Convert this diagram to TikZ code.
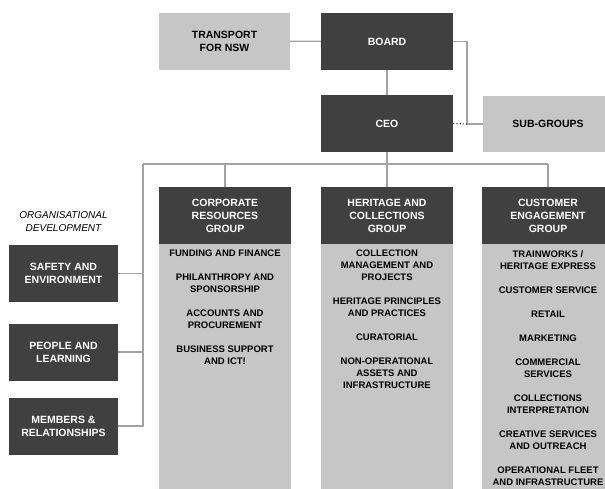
\documentclass[tikz,border=0pt]{standalone}
\usepackage{fontspec}
\setmainfont{Liberation Sans}
\usetikzlibrary{positioning}

\definecolor{boxdark}{HTML}{404040}
\definecolor{boxlight}{HTML}{C6C6C6}
\definecolor{linkgray}{HTML}{A2A2A2}

\begin{document}
\begin{tikzpicture}[
  x=1pt, y=-1pt,
  darkbox/.style={rectangle, fill=boxdark, text=white, inner sep=0pt, align=center,
    minimum width=132pt, minimum height=57pt, font=\fontsize{10.5}{13}\selectfont\bfseries},
  lightbox/.style={darkbox, fill=boxlight, text=black},
  sidebox/.style={darkbox, minimum width=109pt},
  colbody/.style={rectangle, fill=boxlight, anchor=north, inner sep=0pt,
    minimum width=132pt, minimum height=260pt},
  unitlist/.style={anchor=north, inner sep=0pt, align=center,
    font=\fontsize{9.5}{12}\selectfont\bfseries},
  link/.style={draw=linkgray, line width=1.2pt}
]
\useasboundingbox (0,0) rectangle (605,488);

% top of the chart
\node[lightbox, minimum width=131pt] (transport) at (224.5,41) {TRANSPORT\\FOR NSW};
\node[darkbox] (board) at (387,41.5) {BOARD};
\node[darkbox] (ceo) at (387,123.5) {CEO};
\node[lightbox, minimum width=130pt, minimum height=56pt] (subgroups) at (548,124) {SUB-GROUPS};

% the three groups
\node[colbody] (corpbody) at (225,244) {};
\node[colbody] (herbody) at (387,244) {};
\node[colbody] (custbody) at (548,244) {};
\node[darkbox] (corphead) at (225,215.5) {CORPORATE\\RESOURCES\\GROUP};
\node[darkbox] (herhead) at (387,215.5) {HERITAGE AND\\COLLECTIONS\\GROUP};
\node[darkbox] (custhead) at (548,215.5) {CUSTOMER\\ENGAGEMENT\\GROUP};

\node[unitlist] (corpunits) at (225,250) {FUNDING AND FINANCE\\[12pt]
  PHILANTHROPY AND\\SPONSORSHIP\\[12pt]
  ACCOUNTS AND\\PROCUREMENT\\[12pt]
  BUSINESS SUPPORT\\AND ICT!};
\node[unitlist] (herunits) at (387,250) {COLLECTION\\MANAGEMENT AND\\PROJECTS\\[12pt]
  HERITAGE PRINCIPLES\\AND PRACTICES\\[12pt]
  CURATORIAL\\[12pt]
  NON-OPERATIONAL\\ASSETS AND\\INFRASTRUCTURE};
\node[unitlist] (custunits) at (548,250) {TRAINWORKS /\\HERITAGE EXPRESS\\[12pt]
  CUSTOMER SERVICE\\[12pt]
  RETAIL\\[12pt]
  MARKETING\\[12pt]
  COMMERCIAL\\SERVICES\\[12pt]
  COLLECTIONS\\INTERPRETATION\\[12pt]
  CREATIVE SERVICES\\AND OUTREACH\\[12pt]
  OPERATIONAL FLEET\\AND INFRASTRUCTURE};

% organisational development
\node[align=center, inner sep=0pt, font=\fontsize{10}{13}\selectfont\itshape] (orgdev)
  at (63.5,221.5) {ORGANISATIONAL\\DEVELOPMENT};
\node[sidebox] (safety) at (63.5,273.5) {SAFETY AND\\ENVIRONMENT};
\node[sidebox] (people) at (63.5,352) {PEOPLE AND\\LEARNING};
\node[sidebox] (members) at (63.5,426) {MEMBERS \&\\RELATIONSHIPS};

% connectors
\coordinate (subjoin) at (467,124);
\coordinate (bus) at (387,164);
\coordinate (busleft) at (143,164);
\coordinate (busright) at (548,164);

\draw[link] (transport) -- (board);
\draw[link] (board) -- (ceo);
\draw[link] (board.east) -| (subjoin) -- (subgroups.west);
\draw[boxdark, line width=1.2pt, dotted] (ceo.east) -- (subjoin);
\draw[link] (ceo.south) -- (bus);
\draw[link] (busleft) -- (busright);
\foreach \grp in {corphead, herhead, custhead}
  \draw[link] (\grp.north) -- (\grp.north |- bus);
\draw[link] (busleft) |- (members.east);
\foreach \unit in {safety, people}
  \draw[link] (\unit.east) -- (\unit.east -| busleft);
\end{tikzpicture}
\end{document}
